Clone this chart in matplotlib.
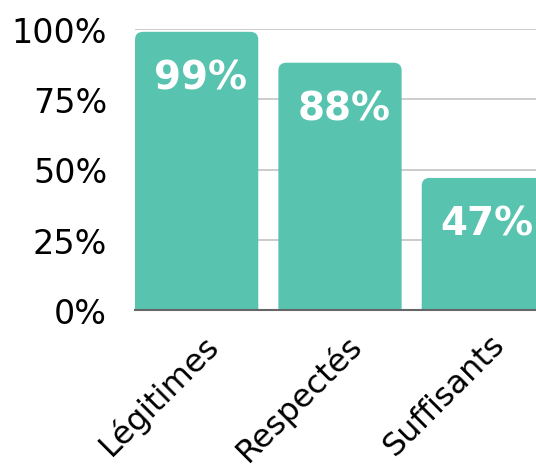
import matplotlib.pyplot as plt
import matplotlib.transforms as mtransforms
from matplotlib.patches import FancyBboxPatch
import numpy as np

categories = ["Légitimes", "Respectés", "Suffisants"]
values = [99, 88, 47]
labels = ["99%", "88%", "47%"]
yticks = [0, 25, 50, 75, 100]

color = "#58c4b0"

fig = plt.figure(figsize=(5.36, 4.77), dpi=100)
# axes runs past the right edge, the last bar is cut off like the original
ax = fig.add_axes([135 / 536, 1 - 311 / 477, 410 / 536, 281 / 477])

x = np.arange(len(categories))
width = 0.86
bars = ax.bar(x, values, width, color=color, zorder=3)

ax.set_xlim(-0.43, 2.43)
ax.set_ylim(0, 100)

# rounded tops: replace each bar by a round box that starts below 0 (clipped)
px_x = 410 / 2.86
px_y = 281 / 100
r = 8 / px_x
for b in bars:
    x0, w, h = b.get_x(), b.get_width(), b.get_height()
    b.set_visible(False)
    ax.add_patch(FancyBboxPatch((x0, -10), w, h + 10,
                                boxstyle=f"round,pad=0,rounding_size={r}",
                                mutation_aspect=px_x / px_y,
                                facecolor=color, edgecolor="none", zorder=3))

for xi, v, lab in zip(x, values, labels):
    ax.text(xi + 4 / px_x, v - 46 / px_y, lab, ha="center", va="center",
            color="white", fontsize=28, fontweight="bold", zorder=4)

ax.set_yticks(yticks)
ax.set_yticklabels([f"{t}%" for t in yticks], fontsize=24)
ax.set_xticks(x)
ax.set_xticklabels(categories, fontsize=23,
                   rotation=45, ha="right", rotation_mode="anchor")
ax.tick_params(axis="both", length=0)
ax.tick_params(axis="y", pad=20)
ax.tick_params(axis="x", pad=13)
offset = mtransforms.ScaledTranslation(0.06, 0, fig.dpi_scale_trans)
for t in ax.get_xticklabels():
    t.set_transform(t.get_transform() + offset)

ax.grid(axis="y", color="#c4c4c4", linewidth=1.2, zorder=0)
for s in ["left", "right", "top"]:
    ax.spines[s].set_visible(False)
ax.spines["bottom"].set_color("#666666")
ax.spines["bottom"].set_linewidth(1.5)
ax.spines["bottom"].set_zorder(5)

fig.savefig("out.png", dpi=100)
